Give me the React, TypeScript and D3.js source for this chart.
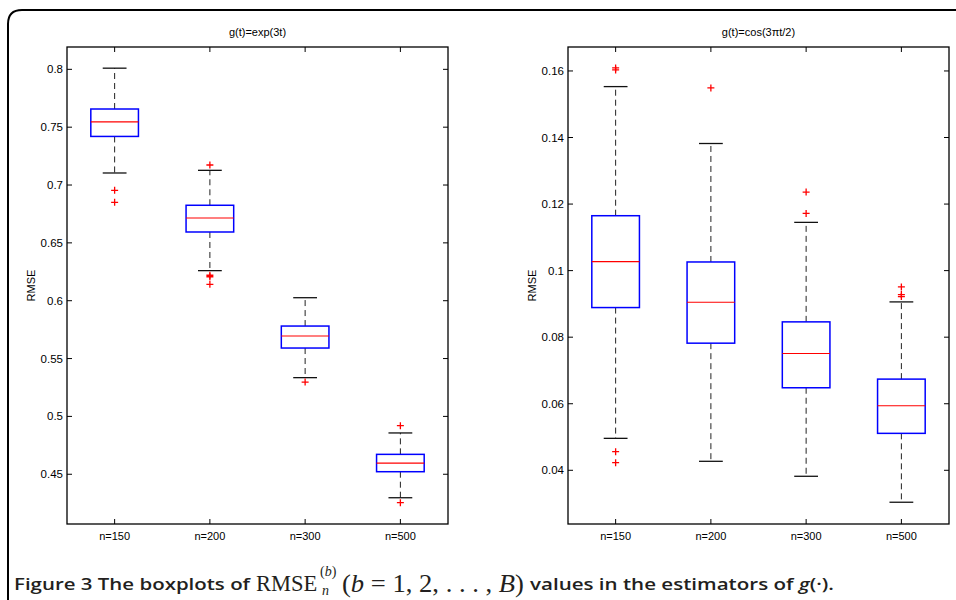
import React from "react";
import * as d3 from "d3";

const categories = ["n=150", "n=200", "n=300", "n=500"];

// Left panel: g(t)=exp(3t)
const leftTitle = "g(t)=exp(3t)";
const leftLow = [0.7104, 0.626, 0.5335, 0.4297];
const leftQ1 = [0.742, 0.6594, 0.5591, 0.4522];
const leftMedian = [0.7545, 0.6715, 0.5695, 0.4597];
const leftQ3 = [0.7657, 0.6825, 0.5781, 0.4672];
const leftHigh = [0.801, 0.7127, 0.6026, 0.4857];
const leftOutliers = [[0.6954, 0.685], [0.7173, 0.622, 0.6207, 0.6142], [0.5297], [0.492, 0.4254]];
const leftTicks = [0.45, 0.5, 0.55, 0.6, 0.65, 0.7, 0.75, 0.8];
const leftTickLabels = ["0.45", "0.5", "0.55", "0.6", "0.65", "0.7", "0.75", "0.8"];
const leftDomain = [0.407, 0.8193];

// Right panel: g(t)=cos(3πt/2)
const rightTitle = "g(t)=cos(3\u03c0t/2)";
const rightLow = [0.0496, 0.0427, 0.0382, 0.0304];
const rightQ1 = [0.0889, 0.0782, 0.0648, 0.0511];
const rightMedian = [0.1027, 0.0905, 0.0751, 0.0594];
const rightQ3 = [0.1165, 0.1026, 0.0846, 0.0674];
const rightHigh = [0.1553, 0.1382, 0.1145, 0.0906];
const rightOutliers = [[0.1609, 0.1603, 0.0456, 0.0423], [0.1549], [0.1236, 0.1172], [0.0951, 0.0928, 0.0922]];
const rightTicks = [0.04, 0.06, 0.08, 0.1, 0.12, 0.14, 0.16];
const rightTickLabels = ["0.04", "0.06", "0.08", "0.1", "0.12", "0.14", "0.16"];
const rightDomain = [0.02386, 0.1672];

const yLabel = "RMSE";
const FONT = "'Liberation Sans', Arial, Helvetica, sans-serif";
const SERIF = "'Liberation Serif', 'Times New Roman', serif";

type PanelProps = {
  x0: number; y0: number; w: number; h: number;
  title: string; low: number[]; q1: number[]; med: number[]; q3: number[]; high: number[];
  outliers: number[][]; ticks: number[]; tickLabels: string[]; domain: number[];
};

function Panel(p: PanelProps) {
  const x = d3.scaleLinear().domain([0.5, categories.length + 0.5]).range([p.x0, p.x0 + p.w]);
  const y = d3.scaleLinear().domain(p.domain).range([p.y0 + p.h, p.y0]);
  const boxHalf = x(1.25) - x(1);
  const capHalf = x(1.125) - x(1);
  const tl = 5;
  const plus = (cx: number, cy: number, k: string) => (
    <path key={k} d={`M${cx - 3.5},${cy}H${cx + 3.5}M${cx},${cy - 3.5}V${cy + 3.5}`} stroke="#ff0000" strokeWidth={1.3} fill="none" />
  );
  return (
    <g>
      <text x={p.x0 + p.w / 2} y={p.y0 - 11.5} textAnchor="middle" fontFamily={FONT} fontSize={11} fill="#000">{p.title}</text>
      <text transform={`translate(${p.x0 - 32},${p.y0 + p.h / 2}) rotate(-90)`} textAnchor="middle" fontFamily={FONT} fontSize={11} fill="#000">{yLabel}</text>
      {p.ticks.map((t, i) => (
        <g key={"yt" + i}>
          <line x1={p.x0} x2={p.x0 + tl} y1={y(t)} y2={y(t)} stroke="#000" />
          <line x1={p.x0 + p.w} x2={p.x0 + p.w - tl} y1={y(t)} y2={y(t)} stroke="#000" />
          <text x={p.x0 - 4} y={y(t) + 4} textAnchor="end" fontFamily={FONT} fontSize={11.5} fill="#000">{p.tickLabels[i]}</text>
        </g>
      ))}
      {categories.map((c, i) => (
        <g key={"xt" + i}>
          <line x1={x(i + 1)} x2={x(i + 1)} y1={p.y0 + p.h} y2={p.y0 + p.h - tl} stroke="#000" />
          <line x1={x(i + 1)} x2={x(i + 1)} y1={p.y0} y2={p.y0 + tl} stroke="#000" />
          <text x={x(i + 1)} y={p.y0 + p.h + 16} textAnchor="middle" fontFamily={FONT} fontSize={11} fill="#000">{c}</text>
        </g>
      ))}
      {categories.map((c, i) => {
        const cx = x(i + 1);
        return (
          <g key={"box" + i}>
            <line x1={cx} x2={cx} y1={y(p.q3[i])} y2={y(p.high[i])} stroke="#222" strokeDasharray="6,4" />
            <line x1={cx} x2={cx} y1={y(p.q1[i])} y2={y(p.low[i])} stroke="#222" strokeDasharray="6,4" />
            <line x1={cx - capHalf} x2={cx + capHalf} y1={y(p.high[i])} y2={y(p.high[i])} stroke="#111" strokeWidth={1.3} />
            <line x1={cx - capHalf} x2={cx + capHalf} y1={y(p.low[i])} y2={y(p.low[i])} stroke="#111" strokeWidth={1.3} />
            <rect x={cx - boxHalf} y={y(p.q3[i])} width={2 * boxHalf} height={y(p.q1[i]) - y(p.q3[i])} fill="none" stroke="#0000ff" strokeWidth={1.5} />
            <line x1={cx - boxHalf} x2={cx + boxHalf} y1={y(p.med[i])} y2={y(p.med[i])} stroke="#ff0000" strokeWidth={1.2} />
            {p.outliers[i].map((o, j) => plus(cx, y(o), "o" + j))}
          </g>
        );
      })}
      <rect x={p.x0} y={p.y0} width={p.w} height={p.h} fill="none" stroke="#000" strokeWidth={1.3} />
    </g>
  );
}

export default function App() {
  return (
    <svg width={956} height={600} style={{ position: "absolute", left: 0, top: 0, background: "#fff" }}>
      <rect x={0} y={0} width={956} height={600} fill="#fff" />
      <path d="M8,600V24Q8,10 22,10H960" fill="none" stroke="#000" strokeWidth={2} />
      <Panel x0={67} y0={47} w={381} h={477} title={leftTitle} low={leftLow} q1={leftQ1} med={leftMedian} q3={leftQ3} high={leftHigh} outliers={leftOutliers} ticks={leftTicks} tickLabels={leftTickLabels} domain={leftDomain} />
      <Panel x0={568} y0={47} w={381} h={477} title={rightTitle} low={rightLow} q1={rightQ1} med={rightMedian} q3={rightQ3} high={rightHigh} outliers={rightOutliers} ticks={rightTicks} tickLabels={rightTickLabels} domain={rightDomain} />
      <g fill="#231f20">
        <text x={14} y={590} fontFamily="'Open Sans', sans-serif" fontWeight={600} fontSize={17} textLength={236} lengthAdjust="spacingAndGlyphs">Figure 3 The boxplots of</text>
        <text x={256} y={591} fontFamily={SERIF} fontSize={22.5}>RMSE</text>
        <text x={320} y={576} fontFamily={SERIF} fontSize={14}>(<tspan fontStyle="italic">b</tspan>)</text>
        <text x={322} y={595} fontFamily={SERIF} fontSize={14} fontStyle="italic">n</text>
        <text x={342} y={592} fontFamily={SERIF} fontSize={25} textLength={182} lengthAdjust="spacingAndGlyphs">(<tspan fontStyle="italic">b</tspan> = 1, 2, . . . , <tspan fontStyle="italic">B</tspan>)</text>
        <text x={530} y={590} fontFamily="'Open Sans', sans-serif" fontWeight={600} fontSize={17} textLength={304} lengthAdjust="spacingAndGlyphs">values in the estimators of <tspan fontStyle="italic">g</tspan>(·).</text>
      </g>
    </svg>
  );
}
